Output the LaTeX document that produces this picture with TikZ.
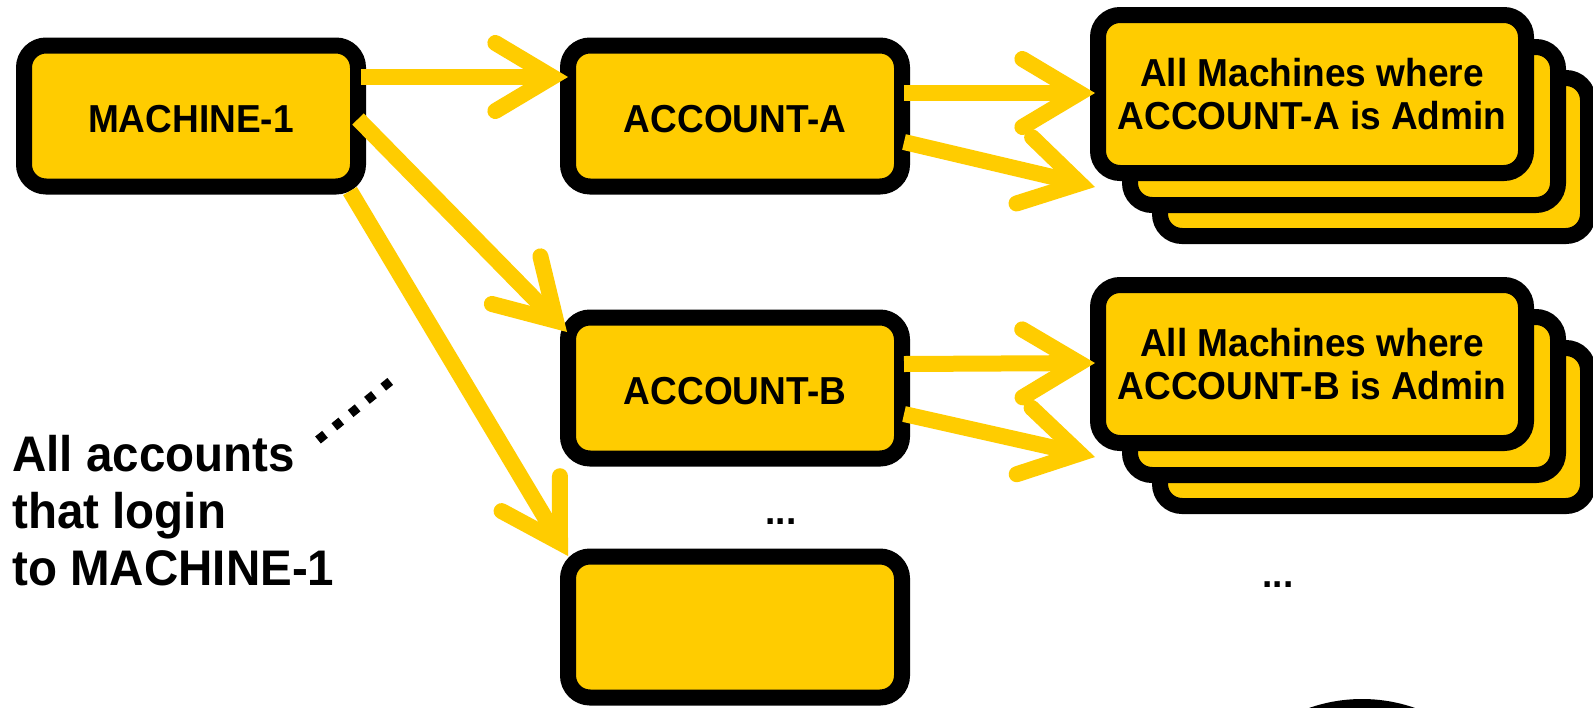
\documentclass[tikz,border=0pt]{standalone}
\usepackage{fontspec}
\setmainfont{Liberation Sans}[FakeStretch=0.95]
\usetikzlibrary{arrows.meta,calc}
\definecolor{gold}{RGB}{255,204,0}
\begin{document}
\begin{tikzpicture}[x=0.5pt,y=-0.5pt,
  frame/.style={draw=black,line width=8pt,fill=gold,rounded corners=11pt,
    inner sep=0pt,outer sep=0pt,align=center,
    font=\bfseries\fontsize{19.5pt}{21.5pt}\selectfont},
  box/.style={frame,minimum width=167pt,minimum height=70.5pt,
    text height=16pt,text depth=0pt},
  stackbox/.style={frame,minimum width=214pt,minimum height=79pt},
  link/.style={draw=gold,line width=8pt,
    -{Straight Barb[length=28.5pt,width=34pt,line cap=round,line join=miter]}},
  dotline/.style={draw=black,line width=4.5pt,dash pattern=on 4.5pt off 6pt},
  dots/.style={inner sep=0pt,font=\bfseries\fontsize{19.5pt}{21.5pt}\selectfont},
  note/.style={inner sep=0pt,anchor=west,align=left,
    font=\bfseries\fontsize{25pt}{28.5pt}\selectfont}]

% page frame
\fill[white] (0,0) rectangle (1593,707);
\useasboundingbox (0,0) rectangle (1593,707);

% partly visible round shape at the lower edge
\fill[black] (1362,859) circle[radius=80pt];

% machine and account boxes
\node[box] (m1)    at (191,116) {MACHINE-1};
\node[box] (acca)  at (735,116) {ACCOUNT-A};
\node[box] (accb)  at (735,388) {ACCOUNT-B};
\node[box] (empty) at (735,627) {};

% stacks of admin machines, back to front
\node[stackbox] (sa3) at (1374,157) {};
\node[stackbox] (sa2) at (1344,126) {};
\node[stackbox] (sa1) at (1312,94) {All Machines where\\ACCOUNT-A is Admin};
\node[stackbox] (sb3) at (1374,427) {};
\node[stackbox] (sb2) at (1344,396) {};
\node[stackbox] (sb1) at (1312,364) {All Machines where\\ACCOUNT-B is Admin};

% connectors
\draw[link] ($(m1.center)+(170,-39)$) -- ($(acca.center)+(-167,-39)$);
\draw[link] ($(m1.center)+(167,3)$) -- ($(accb.center)+(-168,-56)$);
\draw[link] ($(m1.center)+(159,75)$) -- ($(empty.center)+(-167,-71)$);
\draw[link] ($(acca.center)+(169,-23)$) -- ($(sa1.center)+(-217,-1)$);
\draw[link] ($(acca.center)+(169,26)$) -- ($(sa1.center)+(-217,93)$);
\draw[link] ($(accb.center)+(169,-24)$) -- ($(sb1.center)+(-217,-1)$);
\draw[link] ($(accb.center)+(169,26)$) -- ($(sb1.center)+(-217,93)$);

% ellipses
\node[dots] (more1) at (781,522) {...};
\node[dots] (more2) at (1278,585) {...};

% side note with its dotted pointer
\node[note] (lbl) at (12,511) {All accounts\\that login\\to MACHINE-1};
\coordinate (dotA) at (318,440);
\coordinate (dotB) at (392,380);
\draw[dotline] (dotA) -- (dotB);
\end{tikzpicture}
\end{document}
